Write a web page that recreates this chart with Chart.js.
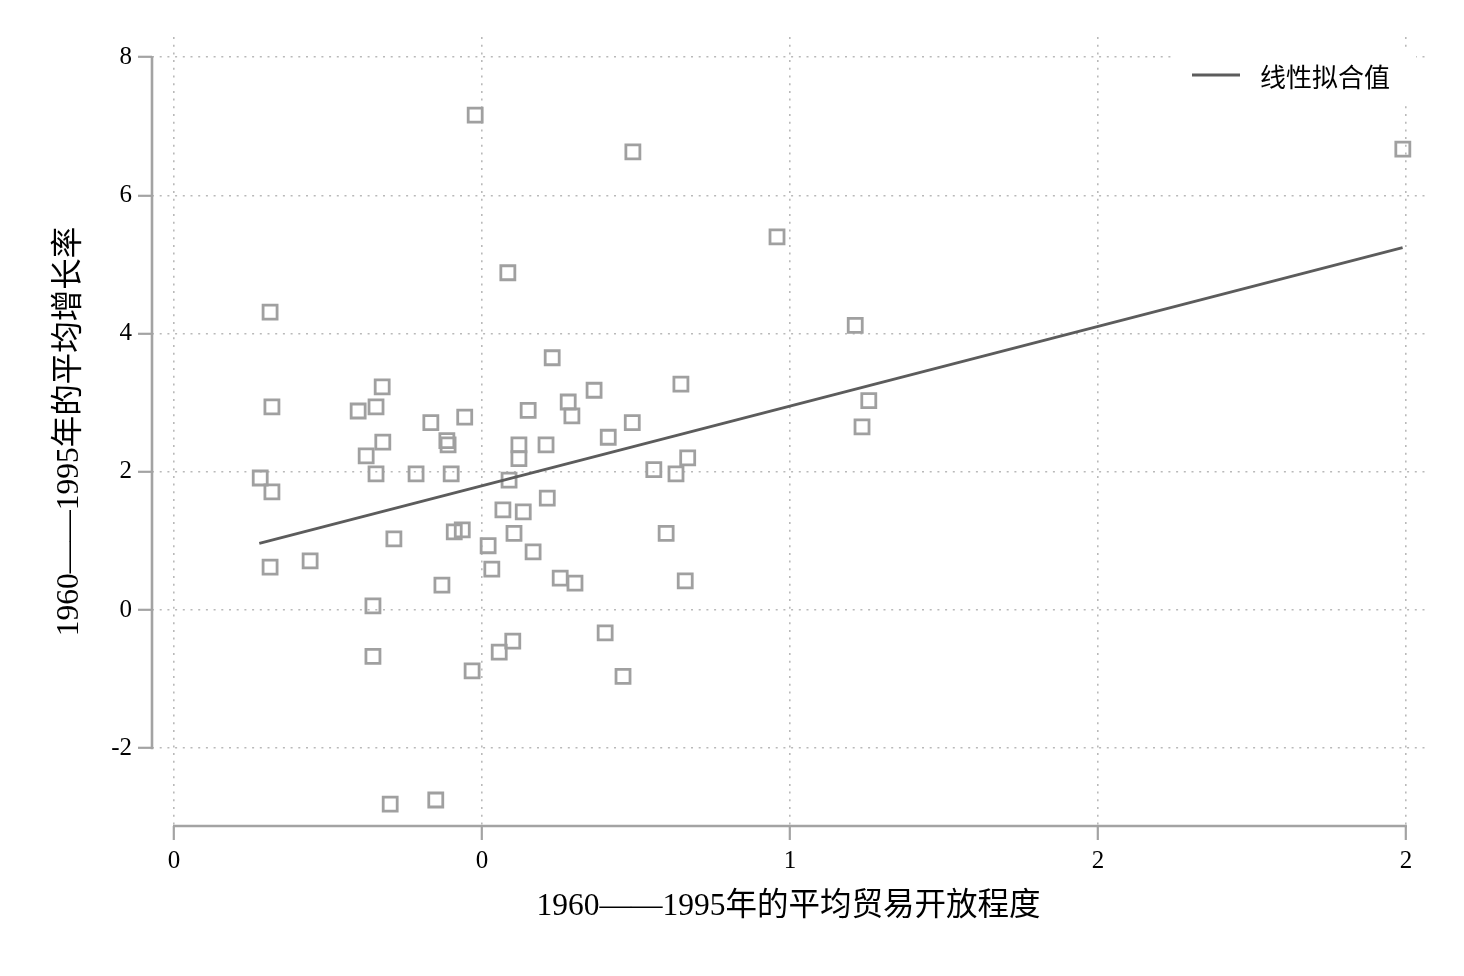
<!DOCTYPE html>
<html>
<head>
<meta charset="utf-8">
<script src="https://cdn.jsdelivr.net/npm/chart.js@4.4.1/dist/chart.umd.min.js"></script>
<style>
  html, body { margin: 0; padding: 0; background: #ffffff; }
  #wrap { width: 1464px; height: 976px; position: relative; }
</style>
</head>
<body>
<div id="wrap"><canvas id="c"></canvas></div>
<script>
// ---- data ----
const trade = [0.489, 0.745, 1.995, 0.979, 0.542, 0.156, 1.106, 0.614, 0.338, 0.823,
               0.682, 0.159, 0.299, 0.328, 0.640, 1.128, 0.575, 0.472, 0.646, 0.417,
               0.744, 1.117, 0.339, 0.443, 0.445, 0.560, 0.604, 0.705, 0.312, 0.560,
               0.834, 0.140, 0.328, 0.393, 0.450, 0.779, 0.815, 0.544, 0.159, 0.606,
               0.534, 0.567, 0.455, 0.468, 0.552, 0.799, 0.357, 0.510, 0.583, 0.221,
               0.156, 0.516, 0.627, 0.651, 0.830, 0.435, 0.323, 0.700, 0.550, 0.528,
               0.323, 0.484, 0.729, 0.425, 0.351];
const growth = [7.16, 6.63, 6.67, 5.40, 4.88, 4.31, 4.12, 3.65, 3.23, 3.27,
                3.18, 2.94, 2.88, 2.94, 3.01, 3.03, 2.89, 2.79, 2.81, 2.71,
                2.71, 2.65, 2.43, 2.45, 2.39, 2.39, 2.39, 2.50, 2.23, 2.19,
                2.20, 1.91, 1.97, 1.97, 1.97, 2.03, 1.97, 1.88, 1.71, 1.62,
                1.45, 1.42, 1.13, 1.16, 1.11, 1.11, 1.03, 0.93, 0.84, 0.71,
                0.62, 0.59, 0.46, 0.39, 0.42, 0.36, 0.06, -0.33, -0.45, -0.61,
                -0.67, -0.88, -0.96, -2.75, -2.81];
const fitX = [0.1385, 1.9946];
const fitY = [0.965, 5.243];
const xTickValues = [0, 0.5, 1, 1.5, 2];
const xTickLabels = ["0", "0", "1", "2", "2"];
const yTickValues = [-2, 0, 2, 4, 6, 8];
const yTickLabels = ["-2", "0", "2", "4", "6", "8"];
const xTitle = "1960——1995年的平均贸易开放程度";
const yTitle = "1960——1995年的平均增长率";
const fitLabel = "线性拟合值";

const scatterData = trade.map((v, i) => ({ x: v, y: growth[i] }));
const fitData = fitX.map((v, i) => ({ x: v, y: fitY[i] }));

const GRID = '#b9b9b9';
const AXIS = '#a3a3a3';
const FITCOLOR = '#5c5c5c';
const serif = "'Liberation Serif', 'Noto Sans CJK SC', serif";

const stataAxes = {
  id: 'stataAxes',
  afterDraw(chart) {
    const ctx = chart.ctx;
    const xs = chart.scales.x, ys = chart.scales.y;
    const area = chart.chartArea;
    ctx.save();
    // axis lines spanning the tick range only
    ctx.strokeStyle = AXIS;
    ctx.lineWidth = 2.6;
    ctx.setLineDash([]);
    ctx.beginPath();
    ctx.moveTo(xs.getPixelForValue(xTickValues[0]) - 1, area.bottom);
    ctx.lineTo(xs.getPixelForValue(xTickValues[xTickValues.length - 1]) + 1, area.bottom);
    ctx.moveTo(area.left, ys.getPixelForValue(yTickValues[0]) + 1);
    ctx.lineTo(area.left, ys.getPixelForValue(yTickValues[yTickValues.length - 1]) - 1);
    ctx.stroke();

    // legend box (top-right inside plot region), white background
    const boxRight = area.right - 9;
    const boxLeft = boxRight - 240;
    const boxTop = area.top + 13;
    const boxH = 55;
    ctx.fillStyle = '#ffffff';
    ctx.fillRect(boxLeft, boxTop, boxRight - boxLeft, boxH);
    const cy = boxTop + 25;
    ctx.strokeStyle = FITCOLOR;
    ctx.lineWidth = 2.8;
    ctx.beginPath();
    ctx.moveTo(boxLeft + 16, cy);
    ctx.lineTo(boxLeft + 64, cy);
    ctx.stroke();
    ctx.fillStyle = '#000000';
    ctx.font = "26px 'Noto Sans CJK SC', sans-serif";
    ctx.textAlign = 'left';
    ctx.textBaseline = 'middle';
    ctx.fillText(fitLabel, boxLeft + 84, cy + 2);
    ctx.restore();
  }
};

new Chart(document.getElementById('c'), {
  data: {
    datasets: [
      {
        type: 'scatter',
        label: 'data',
        data: scatterData,
        pointStyle: 'rect',
        pointRadius: 9.9,
        pointHoverRadius: 9.9,
        pointBorderWidth: 2.8,
        borderColor: '#a0a0a0',
        backgroundColor: 'rgba(0,0,0,0)',
        order: 2
      },
      {
        type: 'line',
        label: fitLabel,
        data: fitData,
        borderColor: FITCOLOR,
        backgroundColor: FITCOLOR,
        borderWidth: 2.8,
        pointRadius: 0,
        fill: false,
        tension: 0,
        order: 1
      }
    ]
  },
  options: {
    responsive: true,
    maintainAspectRatio: false,
    animation: false,
    devicePixelRatio: 1,
    layout: { padding: { left: 0, top: 37, right: 39, bottom: 0 } },
    plugins: {
      tooltip: { enabled: false },
      legend: { display: false }
    },
    scales: {
      x: {
        type: 'linear',
        min: -0.0357,
        max: 2.031,
        afterBuildTicks: (s) => { s.ticks = xTickValues.map(v => ({ value: v })); },
        afterFit: (s) => { s.height = 150; },
        ticks: {
          callback: (val, idx) => xTickLabels[idx],
          color: '#000000',
          padding: 6,
          maxRotation: 0,
          autoSkip: false,
          font: { family: serif, size: 25 }
        },
        grid: {
          color: GRID,
          lineWidth: 1.6,
          drawTicks: true,
          tickLength: 14,
          tickColor: AXIS,
          tickWidth: 2.2
        },
        border: { display: false, dash: [2, 5.7] },
        title: {
          display: true,
          text: xTitle,
          color: '#000000',
          padding: { top: 0, bottom: 50 },
          font: { family: serif, size: 31.5 }
        }
      },
      y: {
        type: 'linear',
        min: -3.126,
        max: 8.292,
        afterBuildTicks: (s) => { s.ticks = yTickValues.map(v => ({ value: v })); },
        afterFit: (s) => { s.width = 152; },
        ticks: {
          callback: (val, idx) => yTickLabels[idx],
          color: '#000000',
          padding: 6,
          autoSkip: false,
          font: { family: serif, size: 25 }
        },
        grid: {
          color: GRID,
          lineWidth: 1.6,
          drawTicks: true,
          tickLength: 14,
          tickColor: AXIS,
          tickWidth: 2.2
        },
        border: { display: false, dash: [2, 5.7] },
        title: {
          display: true,
          text: yTitle,
          color: '#000000',
          padding: { top: 51, bottom: 0 },
          font: { family: serif, size: 31.5 }
        }
      }
    }
  },
  plugins: [stataAxes]
});
</script>
</body>
</html>
